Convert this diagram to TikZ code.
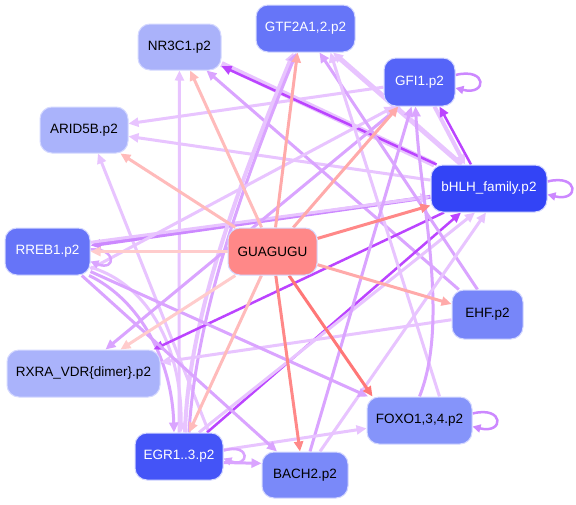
\documentclass[tikz,border=0pt]{standalone}
\usepackage{fontspec}
\setmainfont{Liberation Sans}
\usetikzlibrary{arrows.meta}
\pgfdeclarelayer{bg}\pgfsetlayers{bg,main}
\definecolor{cNR}{HTML}{AAB2FA}
\definecolor{cGT}{HTML}{6675F8}
\definecolor{cGF}{HTML}{5564F8}
\definecolor{cAR}{HTML}{AAB3FB}
\definecolor{cBH}{HTML}{3344F6}
\definecolor{cRR}{HTML}{6674F8}
\definecolor{cGU}{HTML}{FF8888}
\definecolor{cEH}{HTML}{7786F9}
\definecolor{cRX}{HTML}{AAB3FB}
\definecolor{cFO}{HTML}{8594FA}
\definecolor{cEG}{HTML}{4454F7}
\definecolor{cBA}{HTML}{7A89F9}
\definecolor{nbord}{HTML}{D4D8FF}
\definecolor{pL}{HTML}{FFCCCC}
\definecolor{pK}{HTML}{FFBBBB}
\definecolor{pM}{HTML}{FFAAAA}
\definecolor{pS}{HTML}{FF8888}
\definecolor{pX}{HTML}{FF7777}
\definecolor{vL}{HTML}{E8C4FF}
\definecolor{vM}{HTML}{DAA4FF}
\definecolor{vT}{HTML}{CC88FF}
\definecolor{vD}{HTML}{BB44FF}
\begin{document}
\begin{tikzpicture}[x=1pt,y=-1pt,
  nb/.style={rounded corners=12pt, draw=nbord, line width=1pt, inner sep=0pt,
    minimum height=47pt, font=\fontsize{13.5}{15}\selectfont, text=black},
  wt/.style={text=white},
  ed/.style={line width=3pt, color=#1, -{Triangle[length=10pt,width=9pt]}},
  edd/.style={line width=2.5pt, color=#1, -{Triangle[length=10pt,width=9pt]}},
  lp/.style={line width=2.5pt, color=#1, -{Triangle[length=8pt,width=8pt]}}
]
\begin{pgfonlayer}{bg}
\fill[white] (0,0) rectangle (576,504);
\end{pgfonlayer}
\useasboundingbox (0,0) rectangle (576,504);

\node[nb, fill=cNR, minimum width=83pt, minimum height=46pt] (NR) at (179.5,47) {NR3C1.p2};
\node[nb, fill=cGT, wt, minimum width=99pt] (GT) at (305.5,28.5) {GTF2A1,2.p2};
\node[nb, fill=cGF, wt, minimum width=71pt, minimum height=48pt] (GF) at (419.5,82) {GFI1.p2};
\node[nb, fill=cAR, minimum width=88pt, minimum height=46pt] (AR) at (84,130) {ARID5B.p2};
\node[nb, fill=cBH, wt, minimum width=116pt] (BH) at (489,188.5) {bHLH\_family.p2};
\node[nb, fill=cRR, wt, minimum width=85pt] (RR) at (47.5,251.5) {RREB1.p2};
\node[nb, fill=cGU, minimum width=89pt] (GU) at (272.5,251.5) {GUAGUGU};
\node[nb, fill=cEH, minimum width=71pt, minimum height=49pt] (EH) at (487.5,314.5) {EHF.p2};
\node[nb, fill=cRX, minimum width=153pt] (RX) at (83.5,373.5) {RXRA\_VDR\{dimer\}.p2};
\node[nb, fill=cFO, minimum width=105pt] (FO) at (419.5,420.5) {FOXO1,3,4.p2};
\node[nb, fill=cEG, wt, minimum width=88pt] (EG) at (179,456.5) {EGR1..3.p2};
\node[nb, fill=cBA, minimum width=86pt, minimum height=46pt] (BA) at (305,475) {BACH2.p2};

\begin{pgfonlayer}{bg}
% TF to TF edges
\draw[ed=vL] (EG) -- (NR);
\draw[ed=vL] (GF) -- (AR);
\draw[ed=vL] (BH) -- (AR);
\draw[ed=vL] ([xshift=30pt]EG.north) -- ([xshift=14pt]AR.south);
\draw[ed=vM] (EH) -- (NR);
\draw[vL, line width=6pt] ([xshift=4pt]BH.north west) -- ([yshift=-17pt]NR.east);
\draw[edd=vD] (BH) -- (NR);
\draw[ed=vT, line width=4pt] (BH) -- (RR);
\draw[ed=vL] (RR.12) -- (BH.188);
\draw[ed=vL] (RR.-20) .. controls (150,285) and (182,350) .. ([xshift=2pt]EG.north);
\draw[ed=vM] (RR.-30) .. controls (140,300) and (172,360) .. ([xshift=-5pt]EG.north);
\draw[ed=vL, line width=4pt] ([xshift=6pt]EG.north) .. controls (188,330) and (228,210) .. ([xshift=-12pt]GT.south);
\draw[ed=vM] ([xshift=10pt]EG.north) .. controls (195,330) and (232,210) .. ([xshift=-9pt]GT.south);
\draw[edd=vD] ([xshift=28pt]EG.north) -- ([xshift=-28pt]BH.south);
\draw[ed=vL] ([xshift=20pt]EG.north) -- ([xshift=-14pt]BH.south);
\draw[edd=vD] ([xshift=-45pt]BH.south) -- ([xshift=70pt]RX.north);
\draw[ed=vL] (EH) -- (RX);
\draw[ed=vM] ([xshift=-20pt]GF.south) -- ([xshift=22pt]RX.north);
\draw[ed=vL] (RR.-22) -- ([xshift=-25pt]GF.south);
\draw[ed=vL, line width=4pt] ([xshift=15pt]GF.south) -- ([xshift=-24pt]BH.north);
\draw[edd=vD] ([xshift=-18pt]BH.north) -- ([xshift=20pt]GF.south);
\draw[ed=vL, line width=5pt] (BH) -- (GT);
\draw[ed=vM] ([xshift=-10pt]EH.north) -- ([xshift=14pt]GT.south);
\draw[ed=vL] ([xshift=20pt]FO.north) -- ([xshift=25pt]GT.south);
\draw[ed=vM] (FO.north) .. controls (450,320) and (420,200) .. ([xshift=-4pt]GF.south);
\draw[ed=vL] ([xshift=15pt]BA.north) -- ([xshift=-3pt]BH.south);
\draw[ed=vM] ([xshift=5pt]BA.north) -- ([xshift=-8pt]GF.south);
\draw[ed=vL] (EG) -- (FO);
\draw[ed=vM] ([yshift=-6pt]EG.east) -- (BA.165);
\draw[ed=vM] (RR.-25) -- (FO.155);
\draw[ed=vM] (RR.-35) -- (BA.140);
% self loops
\draw[lp=vT] ([yshift=7pt]GF.east) .. controls +(32,-8) and +(32,8) .. ([yshift=-6pt]GF.east);
\draw[lp=vT] ([yshift=7pt]BH.east) .. controls +(32,-8) and +(32,8) .. ([yshift=-6pt]BH.east);
\draw[lp=vT] ([yshift=7pt]FO.east) .. controls +(32,-8) and +(32,8) .. ([yshift=-6pt]FO.east);
\draw[lp=vM] ([yshift=2pt]RR.east) .. controls +(26,-2) and +(26,10) .. ([yshift=-10pt]RR.east);
\draw[lp=vM] ([yshift=6pt]EG.east) .. controls +(28,-8) and +(26,10) .. ([yshift=-2pt]EG.east);
% GUAGUGU edges
\draw[ed=pK] (GU) -- (NR);
\draw[ed=pM] (GU) -- ([xshift=-8pt]GT.south);
\draw[ed=pM] (GU) -- (GF);
\draw[ed=pK] (GU) -- (AR);
\draw[ed=pS] (GU) -- (BH);
\draw[ed=pL] (GU) -- (RR);
\draw[ed=pM] (GU) -- (EH);
\draw[ed=pL] (GU) -- ([xshift=37pt]RX.north);
\draw[ed=pX] (GU) -- ([xshift=-47pt]FO.north);
\draw[ed=pS] (GU) -- ([xshift=-5pt]BA.north);
\draw[ed=pK] (GU) -- ([xshift=10pt]EG.north);
\end{pgfonlayer}
\end{tikzpicture}
\end{document}
